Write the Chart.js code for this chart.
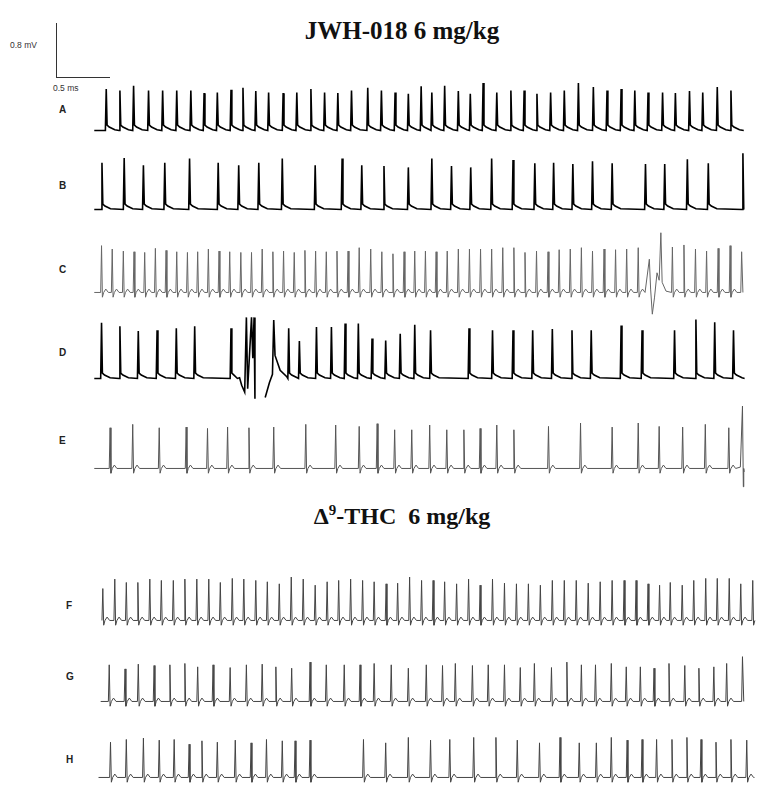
<!DOCTYPE html>
<html lang="en">
  <head>
    <meta charset="UTF-8" />
    <title>JWH-018 / THC ECG traces</title>
    <script src="https://cdn.jsdelivr.net/npm/chart.js"></script>
    <style>
      body {
        margin: 0;
        background: #fff;
        font-family: "Liberation Sans", Arial, sans-serif;
      }
      .page {
        position: relative;
        width: 770px;
        height: 791px;
        overflow: hidden;
      }
      .title {
        position: absolute;
        left: 0;
        width: 804px;
        text-align: center;
        font-family: "Liberation Serif", "Times New Roman", serif;
        font-weight: bold;
        font-size: 25px;
        color: #111;
      }
      .title sup {
        font-size: 15px;
      }
      .lbl {
        position: absolute;
        font-weight: bold;
        font-size: 10px;
        color: #222;
      }
      .scale-text {
        position: absolute;
        font-size: 8.5px;
        color: #333;
      }
      .bar-v {
        position: absolute;
        left: 56px;
        top: 23px;
        width: 0;
        height: 54px;
        border-left: 1px solid #333;
      }
      .bar-h {
        position: absolute;
        left: 56px;
        top: 77px;
        width: 54px;
        height: 0;
        border-top: 1px solid #333;
      }
      canvas {
        position: absolute;
        left: 90px;
      }
    </style>
  </head>
  <body>
    <div class="page" id="page">
      <div class="title" style="top: 17px">JWH-018 6 mg/kg</div>
      <div class="title" style="top: 502px; font-size: 24px">&Delta;<sup>9</sup>-THC&nbsp; 6 mg/kg</div>

      <div class="bar-v"></div>
      <div class="bar-h"></div>
      <div class="scale-text" style="left: 10px; top: 40px">0.8 mV</div>
      <div class="scale-text" style="left: 53px; top: 83px">0.5 ms</div>

      <div class="lbl" style="left: 59px; top: 104px">A</div>
      <div class="lbl" style="left: 59px; top: 180px">B</div>
      <div class="lbl" style="left: 59px; top: 264px">C</div>
      <div class="lbl" style="left: 59px; top: 347px">D</div>
      <div class="lbl" style="left: 59px; top: 435px">E</div>
      <div class="lbl" style="left: 66px; top: 600px">F</div>
      <div class="lbl" style="left: 66px; top: 671px">G</div>
      <div class="lbl" style="left: 66px; top: 754px">H</div>
    </div>

    <script>
      // time axis is in samples, amplitudes in mV above baseline
      const SAMPLES = 1568;

      // [time, spike height]
      const beatsA = [[38,0.61],[70,0.59],[102,0.66],[137,0.59],[170,0.59],[203,0.59],[236,0.59],[267,0.55],[298,0.56],[330,0.60],
        [358,0.63],[388,0.58],[418,0.56],[452,0.55],[484,0.56],[517,0.61],[549,0.56],[580,0.55],[612,0.59],[650,0.63],
        [682,0.59],[714,0.56],[745,0.54],[775,0.65],[800,0.56],[830,0.66],[862,0.58],[890,0.54],[920,0.70],[952,0.56],
        [985,0.59],[1016,0.59],[1046,0.54],[1078,0.56],[1110,0.59],[1143,0.70],[1178,0.64],[1210,0.59],[1243,0.61],[1275,0.59],
        [1306,0.56],[1340,0.56],[1370,0.55],[1403,0.58],[1434,0.56],[1468,0.64],[1500,0.59]];

      const beatsB = [[28,0.69],[80,0.76],[125,0.65],[175,0.69],[233,0.75],[300,0.69],[348,0.65],[395,0.69],[450,0.75],[527,0.65],
        [590,0.75],[636,0.65],[688,0.64],[745,0.62],[800,0.75],[846,0.64],[891,0.62],[940,0.75],[990,0.73],[1041,0.68],
        [1085,0.69],[1130,0.67],[1176,0.71],[1222,0.68],[1300,0.67],[1345,0.67],[1398,0.74],[1447,0.68],[1528,0.83]];

      const beatsC = [[27,0.69],[52,0.64],[78,0.61],[103,0.60],[128,0.59],[153,0.65],[178,0.62],[203,0.60],[228,0.59],[252,0.60],
        [277,0.64],[302,0.61],[327,0.60],[353,0.59],[378,0.59],[403,0.64],[428,0.60],[453,0.61],[478,0.59],[503,0.62],
        [528,0.61],[553,0.60],[578,0.61],[604,0.61],[630,0.66],[657,0.64],[683,0.60],[709,0.57],[735,0.60],[760,0.61],
        [785,0.61],[810,0.60],[836,0.61],[862,0.64],[888,0.64],[914,0.64],[940,0.64],[966,0.66],[992,0.66],[1018,0.59],
        [1045,0.61],[1072,0.60],[1098,0.63],[1124,0.64],[1150,0.66],[1176,0.61],[1203,0.64],[1230,0.63],[1256,0.64],[1283,0.66],
        [1363,0.67],[1390,0.70],[1417,0.64],[1443,0.61],[1470,0.65],[1498,0.69],[1525,0.60]];
      // ectopic complex near the end of C
      const eventC = [[1300,0],[1309,0.49],[1312,0.05],[1316,-0.32],[1321,-0.08],[1327,0.29],[1332,0.18],[1336,0.88],[1339,0.15],[1348,0.02]];

      const beatsD = [[27,0.82],[70,0.77],[113,0.70],[157,0.71],[202,0.74],[245,0.77],[330,0.74],
        [465,0.74],[490,0.55],[530,0.76],[565,0.76],[597,0.81],[628,0.81],[660,0.59],[692,0.56],[726,0.66],[760,0.79],[797,0.71],
        [887,0.74],[942,0.71],[990,0.71],[1036,0.71],[1082,0.73],[1128,0.71],[1173,0.71],[1243,0.78],[1292,0.71],[1368,0.71],
        [1418,0.87],[1462,0.83],[1506,0.71]];
      // artefact in D (null = break in the record)
      const eventD = [[345,0.0],[355,-0.1],[362,-0.2],[366,0.9],[369,-0.15],[378,0.9],[381,0.3],[384,0.9],[386,-0.3],
        [397,null],[410,-0.28],[420,-0.06],[427,0.06],[430,0.86],[433,0.34],[445,0.12],[460,0.03]];

      const beatsE = [[47,0.60],[100,0.65],[162,0.60],[225,0.61],[275,0.59],[322,0.61],[372,0.60],[430,0.61],[505,0.65],[575,0.64],
        [630,0.62],[672,0.66],[713,0.57],[753,0.57],[795,0.64],[835,0.57],[875,0.57],[913,0.59],[952,0.64],[992,0.57],
        [1073,0.62],[1148,0.67],[1222,0.61],[1283,0.67],[1332,0.62],[1387,0.61],[1440,0.65],[1495,0.60]];
      const eventE = [[1522,0.02],[1527,0.92],[1529,-0.27],[1531,-0.05]];

      const beatsF = [[30,0.47],[58,0.61],[85,0.56],[112,0.56],[140,0.61],[167,0.59],[195,0.59],[222,0.61],[250,0.61],[278,0.61],
        [305,0.56],[333,0.62],[360,0.61],[388,0.59],[415,0.57],[443,0.54],[471,0.64],[499,0.61],[527,0.52],[555,0.57],
        [582,0.59],[610,0.61],[638,0.59],[665,0.57],[693,0.54],[720,0.55],[748,0.64],[776,0.59],[803,0.59],[830,0.57],
        [858,0.54],[886,0.61],[913,0.52],[942,0.61],[970,0.55],[998,0.54],[1026,0.54],[1054,0.52],[1082,0.59],[1110,0.59],
        [1138,0.59],[1166,0.55],[1194,0.57],[1222,0.59],[1250,0.59],[1278,0.59],[1306,0.54],[1333,0.52],[1358,0.56],[1386,0.52],
        [1413,0.59],[1441,0.62],[1468,0.62],[1496,0.62],[1523,0.54],[1551,0.59]];

      const beatsG = [[45,0.54],[82,0.48],[113,0.55],[150,0.53],[187,0.54],[222,0.56],[252,0.51],[288,0.54],[328,0.50],[366,0.54],
        [403,0.55],[435,0.51],[472,0.49],[515,0.58],[553,0.54],[595,0.54],[632,0.54],[665,0.56],[705,0.54],[745,0.49],
        [787,0.54],[825,0.53],[855,0.56],[895,0.53],[932,0.54],[970,0.54],[1007,0.50],[1040,0.56],[1080,0.50],[1116,0.58],
        [1150,0.54],[1183,0.54],[1220,0.56],[1255,0.51],[1288,0.51],[1320,0.49],[1355,0.56],[1392,0.53],[1425,0.49],[1460,0.51],
        [1490,0.56],[1527,0.66]];

      const beatsH = [[48,0.52],[85,0.56],[125,0.58],[162,0.55],[197,0.56],[232,0.49],[262,0.54],[298,0.52],[340,0.55],[377,0.51],
        [413,0.56],[450,0.54],[480,0.54],[515,0.55],[640,0.56],[692,0.51],[745,0.59],[797,0.55],[842,0.56],[898,0.59],
        [950,0.59],[1000,0.55],[1052,0.51],[1100,0.59],[1145,0.51],[1185,0.51],[1220,0.59],[1257,0.55],[1292,0.56],[1326,0.56],
        [1362,0.56],[1397,0.59],[1430,0.56],[1465,0.52],[1500,0.56],[1537,0.55]];

      // [start, end] sample of each trace
      const spanA = [10, 1530], spanB = [10, 1530], spanC = [10, 1528], spanD = [10, 1532];
      const spanE = [10, 1530], spanF = [28, 1556], spanG = [25, 1530], spanH = [20, 1555];

      // beat shapes: offsets after the peak, value relative (null = peak)
      const SHAPE_DARK = [[-2, 0], [0, null], [2, 0.08], [7, 0.05], [20, 0.01]];
      const SHAPE_GREY = [[-2, 0], [0, null], [2, -0.07], [5, 0.0], [10, 0.05], [16, 0]];

      function buildPoints(beats, span, shape, extra) {
        const pts = [{ x: span[0], y: 0 }];
        beats.forEach(function (b, i) {
          const next = i + 1 < beats.length ? beats[i + 1][0] : span[1] + 1;
          shape.forEach(function (s) {
            const x = b[0] + s[0];
            if (x < next - 2 && x <= span[1]) pts.push({ x: x, y: s[1] === null ? b[1] : s[1] });
          });
        });
        (extra || []).forEach(function (e) { pts.push({ x: e[0], y: e[1] }); });
        pts.push({ x: span[1], y: 0 });
        pts.sort(function (p, q) { return p.x - q.x; });
        return pts;
      }

      const PX_PER_MV = 67.5;
      const Y_MIN = -0.45, Y_MAX = 0.95;

      function drawTrace(beats, span, baselineY, shape, color, width, extra) {
        const page = document.getElementById('page');
        const cv = document.createElement('canvas');
        const h = Math.round((Y_MAX - Y_MIN) * PX_PER_MV);
        cv.width = 670;
        cv.height = h;
        cv.style.top = Math.round(baselineY - Y_MAX * PX_PER_MV) + 'px';
        page.appendChild(cv);
        new Chart(cv.getContext('2d'), {
          type: 'line',
          data: {
            datasets: [{
              data: buildPoints(beats, span, shape, extra),
              borderColor: color,
              borderWidth: width,
              pointRadius: 0,
              tension: 0,
              spanGaps: false,
              fill: false
            }]
          },
          options: {
            responsive: false,
            animation: false,
            parsing: false,
            layout: { padding: 0 },
            plugins: { legend: { display: false }, tooltip: { enabled: false } },
            scales: {
              x: { type: 'linear', display: false, min: 0, max: SAMPLES },
              y: { display: false, min: Y_MIN, max: Y_MAX }
            }
          }
        });
      }

      drawTrace(beatsA, spanA, 130, SHAPE_DARK, '#000', 1.6);
      drawTrace(beatsB, spanB, 209, SHAPE_DARK, '#000', 1.6);
      drawTrace(beatsC, spanC, 292, SHAPE_GREY, '#666', 1, eventC);
      drawTrace(beatsD, spanD, 378, SHAPE_DARK, '#000', 1.6, eventD);
      drawTrace(beatsE, spanE, 468, SHAPE_GREY, '#555', 1, eventE);
      drawTrace(beatsF, spanF, 620, SHAPE_GREY, '#444', 1);
      drawTrace(beatsG, spanG, 701, SHAPE_GREY, '#444', 1);
      drawTrace(beatsH, spanH, 777, SHAPE_GREY, '#444', 1);
    </script>
  </body>
</html>
